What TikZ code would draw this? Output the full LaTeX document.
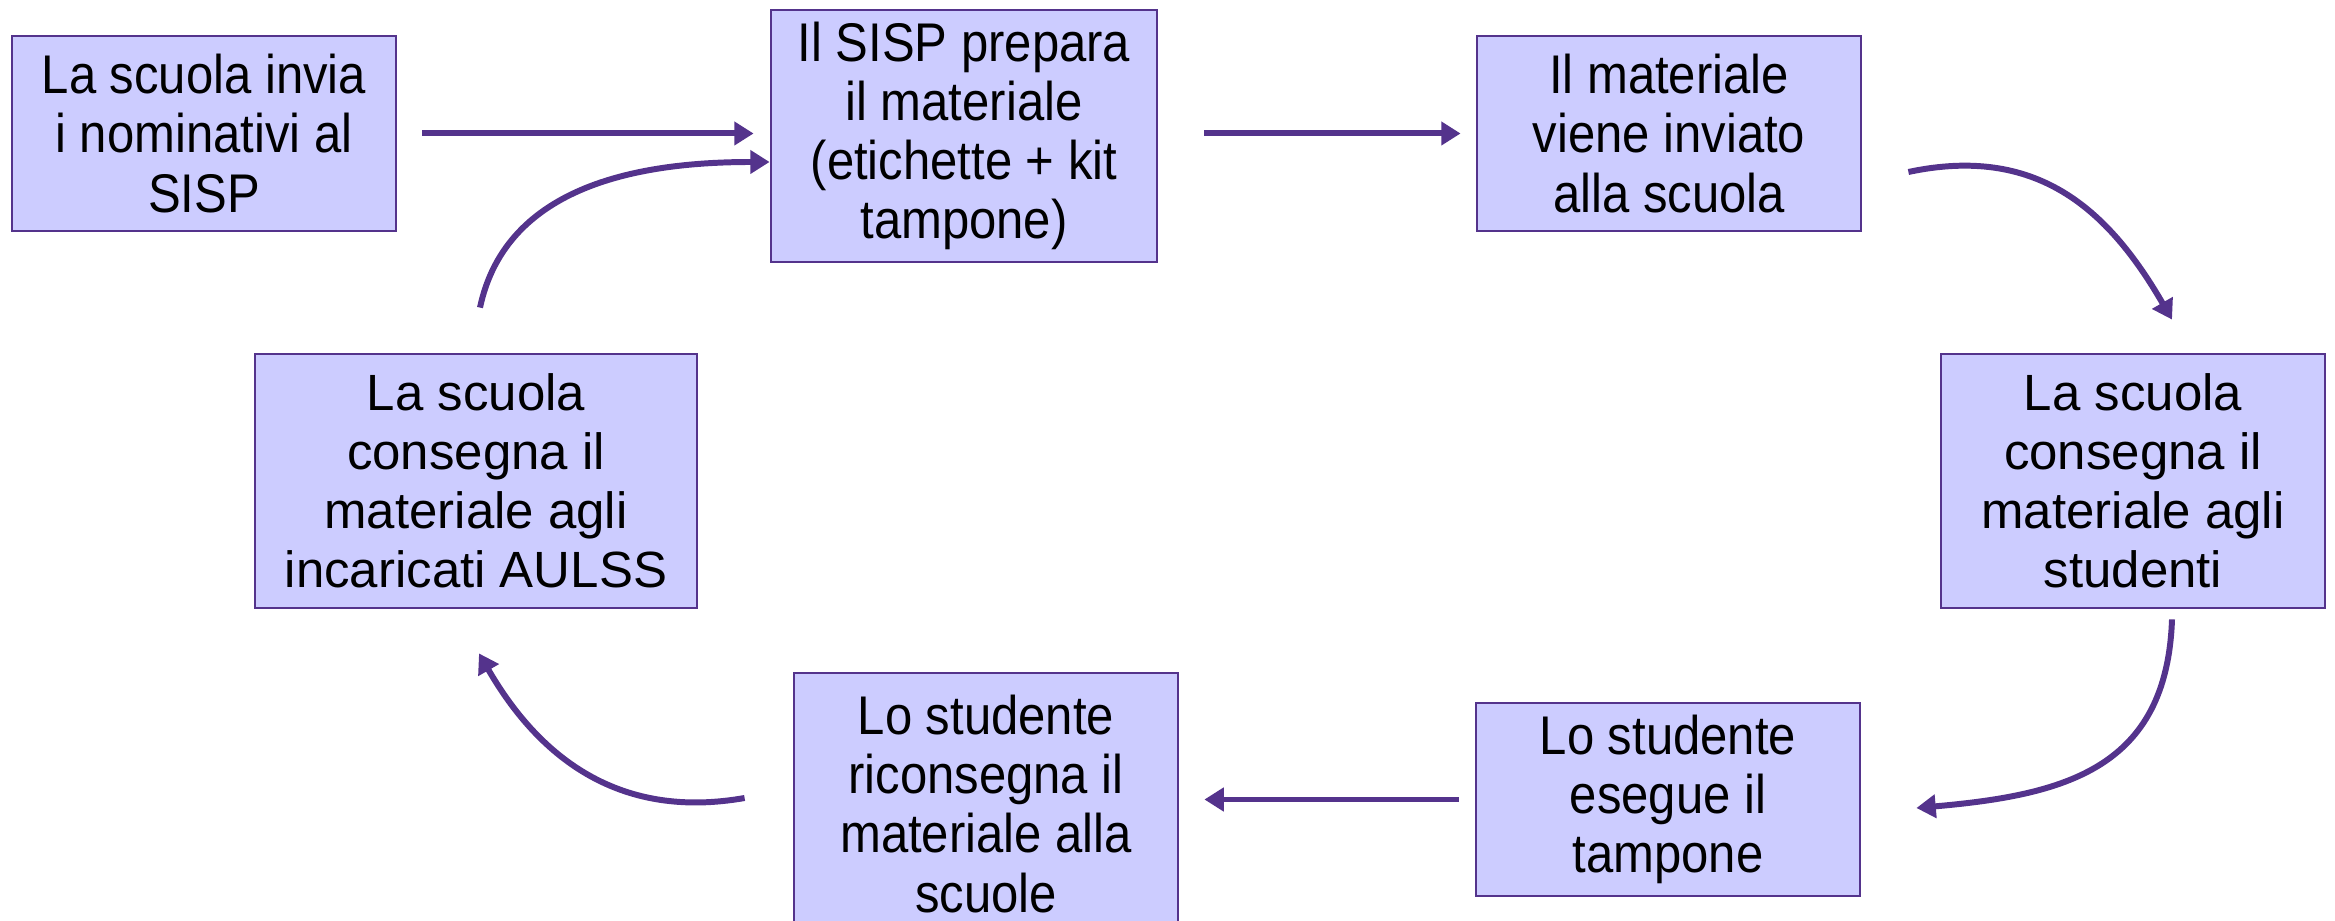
\documentclass[tikz,border=0pt]{standalone}
\usepackage{fontspec}
\setmainfont{Liberation Sans}
\newfontfamily\narrowsans[FakeStretch=0.9]{Liberation Sans}
\usetikzlibrary{arrows.meta, positioning}
\definecolor{accentpurple}{RGB}{84, 51, 140}
\definecolor{boxlilac}{RGB}{204, 204, 255}
\tikzset{
    stepbox/.style={draw=accentpurple, line width=0.8pt, fill=boxlilac, rectangle, align=center,
        minimum width=3.84cm, font=\fontsize{14.5}{16.8}\selectfont},
    narrowbox/.style={stepbox, font=\narrowsans\fontsize{15.5}{16.8}\selectfont},
    flow/.style={draw=accentpurple, line width=1.7pt, -{Triangle[length=5.5pt, width=6.5pt]}}
}

\begin{document}
\begin{tikzpicture}
    \useasboundingbox (0,0) rectangle (23.35,9.21);

    % riga in alto
    \node[narrowbox, minimum height=1.95cm] (invio) at (2.04,7.875) {La scuola invia\\i nominativi al\\SISP};
    \node[narrowbox, minimum width=3.86cm, minimum height=2.52cm] (sisp) at (9.64,7.85) {Il SISP prepara\\il materiale\\(etichette + kit\\tampone)};
    \node[narrowbox, minimum height=1.95cm] (spedito) at (16.69,7.875) {Il materiale\\viene inviato\\alla scuola};

    % lati
    \node[stepbox, minimum height=2.54cm] (studenti) at (21.33,4.40) {La scuola\\consegna il\\materiale agli\\studenti};
    \node[stepbox, minimum width=4.42cm, minimum height=2.54cm] (aulss) at (4.76,4.40) {La scuola\\consegna il\\materiale agli\\incaricati AULSS};

    % riga in basso
    \node[narrowbox, minimum height=1.93cm] (tampone) at (16.68,1.215) {Lo studente\\esegue il\\tampone};
    \node[narrowbox, minimum height=2.62cm] (riconsegna) at (9.86,1.17) {Lo studente\\riconsegna il\\materiale alla\\scuole};

    \draw[flow, shorten <=0.25cm, shorten >=0.16cm] (invio.east) -- (invio.east -| sisp.west);
    \draw[flow, shorten <=0.46cm, shorten >=0.15cm] (sisp.east |- spedito.west) -- (spedito.west);
    \draw[flow] ([xshift=0.46cm, yshift=-0.385cm]spedito.east) to[out=12, in=120, looseness=1.1] ([xshift=0.39cm, yshift=0.33cm]studenti.north);
    \draw[flow] ([xshift=0.39cm, yshift=-0.10cm]studenti.south) to[out=-92, in=5, looseness=1.2] ([xshift=0.55cm, yshift=-0.085cm]tampone.east);
    \draw[flow, shorten <=0.16cm, shorten >=0.25cm] (tampone.west) -- (tampone.west -| riconsegna.east);
    \draw[flow] ([xshift=-0.48cm, yshift=0.06cm]riconsegna.west) to[out=190, in=-60, looseness=1.05] ([xshift=0.03cm, yshift=-0.44cm]aulss.south);
    \draw[flow] ([xshift=0.04cm, yshift=0.45cm]aulss.north) to[out=78, in=180] ([yshift=-0.26cm]sisp.west);
\end{tikzpicture}
\end{document}
